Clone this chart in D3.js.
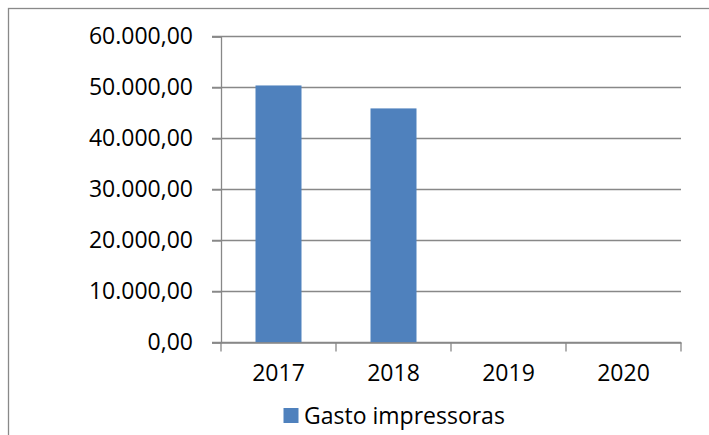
<!DOCTYPE html>
<html>
<head>
<meta charset="utf-8">
<script src="https://cdn.jsdelivr.net/npm/d3@7"></script>
<style>
  body { margin: 0; background: #fff; }
  text { font-family: "Open Sans", sans-serif; fill: #000; }
</style>
</head>
<body>
<svg id="chart" width="709" height="435"></svg>
<script>
// chart data
const years = ["2017", "2018", "2019", "2020"]
const gasto = [50400, 45900, 0, 0]
const yTicks = [0, 10000, 20000, 30000, 40000, 50000, 60000]
const seriesName = "Gasto impressoras"

const fmt = v => d3.format(",.2f")(v).replace(/,/g, "#").replace(/\./g, ",").replace(/#/g, ".")

let svg = d3.select("#chart")

// outer chart border (runs off the right and bottom edge)
svg.append("rect")
    .attr("x", 8.5).attr("y", 8.5)
    .attr("width", 720).attr("height", 450)
    .attr("fill", "none")
    .attr("stroke", "#898989")
    .attr("stroke-width", 1.3)

let x = d3.scaleBand()
    .domain(years)
    .range([221, 681])

let y = d3.scaleLinear()
    .domain([0, 60000])
    .range([342.5, 36.5])

// gridlines
svg.append("g")
    .selectAll("line")
    .data(yTicks)
    .enter().append("line")
    .attr("x1", 212).attr("x2", 681)
    .attr("y1", d => y(d)).attr("y2", d => y(d))
    .attr("stroke", "#888")
    .attr("stroke-width", 1.3)

// bars
let barW = x.bandwidth() * 0.4
svg.append("g")
    .selectAll("rect")
    .data(years.map((yr, i) => ({year: yr, value: gasto[i]})))
    .enter().append("rect")
    .attr("x", d => x(d.year) + (x.bandwidth() - barW) / 2)
    .attr("y", d => y(d.value))
    .attr("width", barW)
    .attr("height", d => y(0) - y(d.value))
    .attr("fill", "#4f81bd")

// y axis
let yAxis = d3.axisLeft(y)
    .tickValues(yTicks)
    .tickSize(9)
    .tickPadding(19)
    .tickFormat(fmt)

let gy = svg.append("g")
    .attr("transform", "translate(221,0)")
    .call(yAxis)
gy.select(".domain").attr("stroke", "#888").attr("stroke-width", 1.3)
gy.selectAll(".tick line").attr("stroke", "#888").attr("stroke-width", 1.3)
gy.selectAll("text").style("font-size", "23px").attr("fill", "#000")

// x axis
let xAxis = d3.axisBottom(x)
    .tickSize(0)
    .tickPadding(22)

let gx = svg.append("g")
    .attr("transform", "translate(0,342.5)")
    .call(xAxis)
gx.select(".domain").attr("stroke", "#888").attr("stroke-width", 1.3)
gx.selectAll("text").style("font-size", "23px").attr("fill", "#000")

// category separator ticks
let edges = years.map(d => x(d)).concat([x.range()[1]])
gx.append("g")
    .selectAll("line")
    .data(edges)
    .enter().append("line")
    .attr("x1", d => d).attr("x2", d => d)
    .attr("y1", 0).attr("y2", 9)
    .attr("stroke", "#888")
    .attr("stroke-width", 1.3)

// legend
let legend = svg.append("g")
legend.append("rect")
    .attr("x", 283.5).attr("y", 408)
    .attr("width", 15).attr("height", 15)
    .attr("fill", "#4f81bd")
legend.append("text")
    .attr("x", 304).attr("y", 415.5)
    .attr("dy", "0.35em")
    .style("font-size", "23px")
    .text(seriesName)
</script>
</body>
</html>
